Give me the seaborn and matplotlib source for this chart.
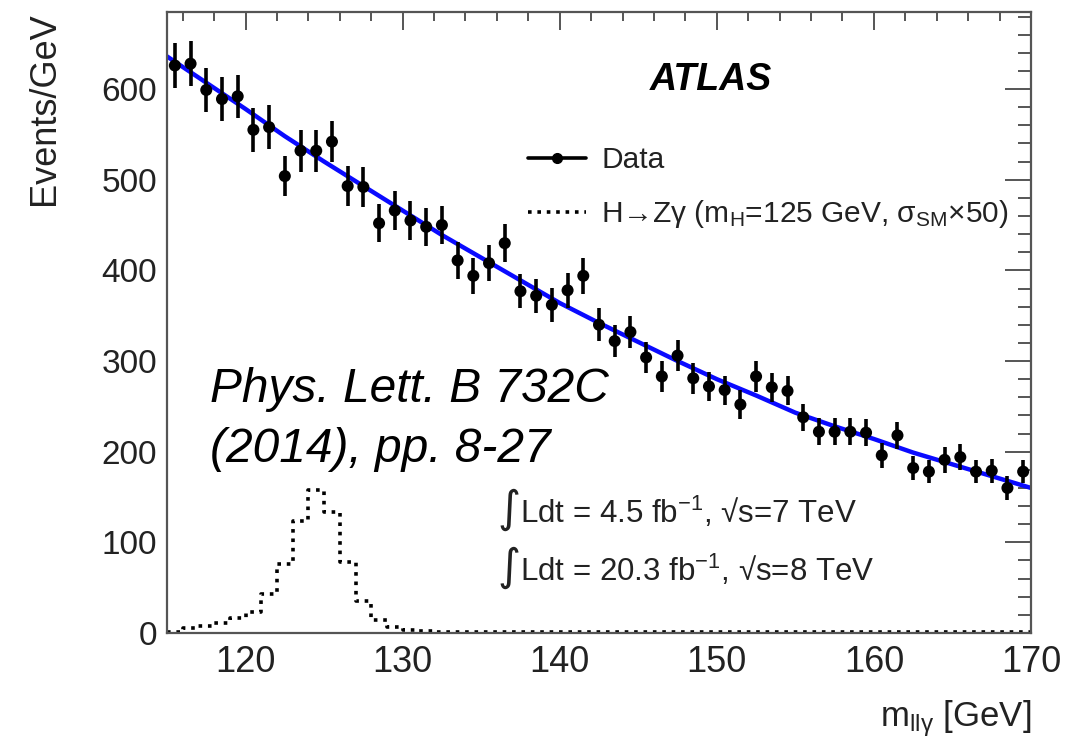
import numpy as np
import pandas as pd
import matplotlib
matplotlib.use("Agg")
import matplotlib.pyplot as plt
from matplotlib.lines import Line2D
from matplotlib.ticker import MultipleLocator
import seaborn as sns

# ---------------- data ----------------
mass = [115.5, 116.5, 117.5, 118.5, 119.5, 120.5, 121.5, 122.5, 123.5, 124.5,
        125.5, 126.5, 127.5, 128.5, 129.5, 130.5, 131.5, 132.5, 133.5, 134.5,
        135.5, 136.5, 137.5, 138.5, 139.5, 140.5, 141.5, 142.5, 143.5, 144.5,
        145.5, 146.5, 147.5, 148.5, 149.5, 150.5, 151.5, 152.5, 153.5, 154.5,
        155.5, 156.5, 157.5, 158.5, 159.5, 160.5, 161.5, 162.5, 163.5, 164.5,
        165.5, 166.5, 167.5, 168.5, 169.5]
events = [626, 628, 599, 589, 592, 555, 558, 504, 532, 532,
          542, 493, 492, 452, 466, 455, 448, 450, 411, 394,
          408, 430, 377, 372, 362, 378, 394, 340, 322, 332,
          304, 283, 306, 281, 272, 268, 252, 283, 271, 267,
          238, 222, 222, 222, 221, 196, 218, 182, 178, 191,
          194, 178, 179, 160, 178]
errors = [25, 25, 24, 24, 24, 24, 24, 22, 23, 23,
          23, 22, 22, 21, 22, 21, 21, 21, 20, 20,
          20, 21, 19, 19, 19, 19, 20, 18, 18, 18,
          17, 17, 17, 17, 16, 16, 16, 17, 16, 16,
          15, 15, 15, 15, 15, 14, 15, 13, 13, 14,
          14, 13, 13, 13, 13]

fit_mass = [115, 117.5, 120, 122.5, 125, 127.5, 130, 132.5, 135, 137.5, 140,
            142.5, 145, 147.5, 150, 152.5, 155, 157.5, 160, 162.5, 165, 167.5, 170]
fit_bkg = [636, 607, 578, 548, 520, 493, 466, 439, 414, 389, 364,
           342, 321, 300, 280, 262, 243, 228, 214, 199, 186, 173, 160]

sig_edges = list(range(115, 171))
sig_centers = [e + 0.5 for e in sig_edges[:-1]]
sig_vals = [1.5, 5, 8, 11, 16, 23, 43, 76, 124, 158, 134, 78, 35, 14, 7, 3,
            2, 1.5, 1.5, 1.5, 1.5, 1.5, 1.5, 1.5, 1.5, 1.5, 1.5, 1.5, 1.5, 1.5,
            1.5, 1.5, 1.5, 1.5, 1.5, 1.5, 1.5, 1.5, 1.5, 1.5, 1.5, 1.5, 1.5, 1.5,
            1.5, 1.5, 1.5, 1.5, 1.5, 1.5, 1.5, 1.5, 1.5, 1.5, 1.5]

data_df = pd.DataFrame({"m": mass, "n": events, "err": errors})
fit_df = pd.DataFrame({"m": fit_mass, "n": fit_bkg})
sig_df = pd.DataFrame({"m": sig_centers, "w": sig_vals})

# ---------------- style ----------------
sns.set_theme(style="white")
plt.rcParams["font.family"] = ["Liberation Sans", "DejaVu Sans"]
plt.rcParams["mathtext.default"] = "regular"

fig = plt.figure(figsize=(10.67, 7.39), dpi=100)
ax = fig.add_axes([167 / 1067, 1 - 633 / 739, 864 / 1067, 621 / 739])

# signal histogram (dotted)
sns.histplot(data=sig_df, x="m", weights="w", bins=sig_edges, element="step",
             fill=False, color="black", linestyle=(0, (1, 1.6)), linewidth=2.6,
             ax=ax)

# background fit
sns.lineplot(data=fit_df, x="m", y="n", color="#0a0aff", linewidth=3.2, ax=ax)

# data points
ax.errorbar(data_df["m"], data_df["n"], yerr=data_df["err"], fmt="none",
            ecolor="black", elinewidth=2.6, capsize=0, zorder=4)
sns.scatterplot(data=data_df, x="m", y="n", color="black", marker="o", s=75,
                edgecolor="none", ax=ax, zorder=5)

# axes
ax.set_xlim(115, 170)
ax.set_ylim(0, 685)
ax.xaxis.set_major_locator(MultipleLocator(10))
ax.xaxis.set_minor_locator(MultipleLocator(2))
ax.yaxis.set_major_locator(MultipleLocator(100))
ax.yaxis.set_minor_locator(MultipleLocator(20))

frame_col = "#555555"
for sp in ax.spines.values():
    sp.set_color(frame_col)
    sp.set_linewidth(1.6)
    sp.set_visible(True)

ax.tick_params(axis="both", which="both", direction="in", top=True, right=True,
               color=frame_col, width=1.4)
ax.tick_params(axis="x", which="major", length=13, labelsize=26, pad=9)
ax.tick_params(axis="x", which="minor", length=6.5)
ax.tick_params(axis="y", which="major", length=19, labelsize=24, pad=7)
ax.tick_params(axis="y", which="minor", length=9.5)
ax.set_xticks([120, 130, 140, 150, 160, 170])
for lab in ax.get_xticklabels() + ax.get_yticklabels():
    lab.set_color("#222222")

ax.set_ylabel("Events/GeV", fontsize=26, loc="top", color="#222222")
ax.yaxis.set_label_coords(-0.122, 1.0)
ax.set_xlabel(r"m$_{ll\gamma}$ [GeV]", fontsize=25, loc="right", color="#222222")
ax.xaxis.set_label_coords(1.0, -0.105)

# legend
handles = [Line2D([], [], color="black", marker="o", markersize=7, linewidth=2.6),
           Line2D([], [], color="black", linestyle=(0, (1, 1.6)), linewidth=2.6)]
labels = ["Data", "H\u2192Z\u03b3 (m$_H$=125 GeV, \u03c3$_{SM}$\u00d750)"]
leg = ax.legend(handles, labels, loc="upper left", bbox_to_anchor=(0.418, 0.784),
                frameon=False, fontsize=21.5, handlelength=1.95, handletextpad=0.5,
                labelspacing=0.8, borderpad=0, borderaxespad=0)
for t in leg.get_texts():
    t.set_color("#222222")

# text annotations
ax.text(0.6296, 0.8744, "ATLAS", transform=ax.transAxes, fontsize=27,
        fontweight="bold", fontstyle="italic", ha="center", va="baseline",
        color="black")
ax.text(0.0498, 0.3725, "Phys. Lett. B 732C", transform=ax.transAxes,
        fontsize=34.5, fontstyle="italic", ha="left", va="baseline", color="black")
ax.text(0.0498, 0.2754, "(2014), pp. 8-27", transform=ax.transAxes,
        fontsize=34.5, fontstyle="italic", ha="left", va="baseline", color="black")
ax.text(0.382, 0.179, r"$\int$Ldt = 4.5 fb$^{-1}$, " + "\u221as=7 TeV",
        transform=ax.transAxes, fontsize=22.5, ha="left", va="baseline",
        color="#222222")
ax.text(0.382, 0.086, r"$\int$Ldt = 20.3 fb$^{-1}$, " + "\u221as=8 TeV",
        transform=ax.transAxes, fontsize=22.5, ha="left", va="baseline",
        color="#222222")

fig.savefig("out.png", dpi=100)
